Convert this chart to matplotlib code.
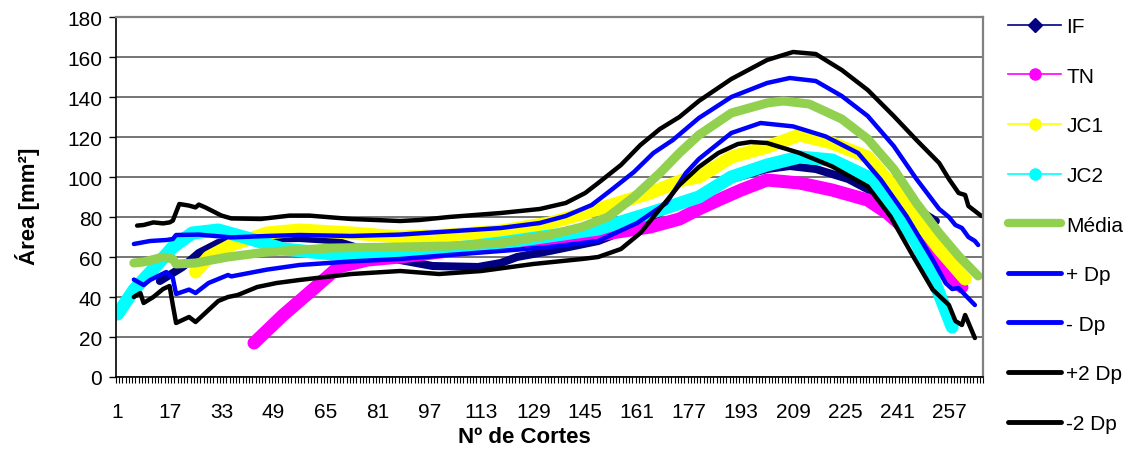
import matplotlib
matplotlib.use("Agg")
import matplotlib.pyplot as plt
from matplotlib.lines import Line2D
import numpy as np

plt.rcParams['font.family'] = ['Liberation Sans', 'DejaVu Sans']

# cross-section area per cut (Nº de Cortes) for each specimen, plus mean and deviation bands
n_cuts = 267

if_x = [14, 16, 21, 26, 32, 39, 57, 67, 78, 88, 98, 112, 119, 124, 134, 149, 160, 170,
        180, 190, 201, 208, 216, 226, 233, 244, 249, 253]
if_y = [48, 50, 55, 62, 67, 69, 69.5, 68.5, 63, 58.5, 55.5, 55, 57, 60, 63, 68, 75, 84,
        91, 99, 104, 105.5, 104, 99, 93, 88, 82, 78]

tn_x = [43, 52, 62, 69, 78, 88, 103, 119, 134, 149, 165, 174, 180, 186, 193, 201, 211,
        221, 232, 238, 245, 253, 261]
tn_y = [17, 31, 45, 55, 58.5, 60, 63, 66, 68, 71, 75, 79, 84, 88.5, 93.5, 98.5, 97,
        93.5, 88.5, 82, 72, 58, 45]

jc1_x = [25, 29, 36, 47, 57, 73, 88, 103, 119, 134, 145, 155, 165, 175, 180, 190, 201,
         211, 221, 232, 240, 247, 254, 262]
jc1_y = [52.5, 60, 66, 72, 73.5, 72, 70, 71, 73, 77, 82, 87, 92, 98.5, 100, 110, 115,
         121, 117, 110, 95, 79, 64, 49]

jc2_x = [1, 6, 12, 18, 24, 32, 42, 52, 67, 88, 103, 119, 134, 149, 165, 180, 190, 201,
         211, 221, 232, 240, 247, 252, 258]
jc2_y = [31.5, 43.5, 54, 65, 72, 73.5, 69, 64, 61.5, 62, 64, 67, 70.5, 74, 82, 90, 100,
         106, 110, 108.5, 100, 84, 67, 50, 25]

media_x = [6, 9, 15, 18, 19, 25, 35, 47, 67, 88, 103, 119, 134, 144, 152, 160, 168, 174,
           180, 190, 201, 206, 214, 224, 232, 240, 247, 254, 260, 266]
media_y = [57, 57.5, 60, 59, 56.5, 57, 60, 62.5, 64.5, 65, 65.5, 67, 71, 75, 80, 90, 102,
           112, 121, 132, 137, 138, 136.5, 129, 119, 104, 87, 72, 60.5, 50.5]

mais_dp_x = [6, 11, 16, 18, 19, 26, 36, 47, 57, 73, 88, 103, 119, 131, 139, 147, 153, 160,
             166, 172, 180, 190, 201, 208, 216, 224, 232, 240, 247, 254, 257, 259, 261,
             263, 265, 266]
mais_dp_y = [66.5, 68, 68.5, 69, 71, 71.2, 69.8, 70.5, 71, 70.5, 71.2, 72.8, 74.5, 77,
             80.5, 86, 93.5, 102.5, 112, 118.5, 129.5, 140, 147, 149.5, 148, 140.5, 130.5,
             115.5, 99, 84, 80, 76, 74.5, 70, 68, 66]

menos_dp_x = [6, 9, 11, 16, 18, 19, 23, 25, 29, 35, 36, 47, 57, 73, 88, 103, 119, 134,
              149, 161, 170, 176, 180, 190, 199, 209, 219, 229, 236, 244, 252, 256, 258,
              260, 262, 265]
menos_dp_y = [48.7, 46, 48.5, 52.5, 49.5, 41.5, 43.7, 42, 47, 51, 50.3, 53.7, 56, 57.8,
              59, 61, 63, 65, 68, 77, 87, 102, 109, 122, 127, 125.3, 120.3, 112, 98.7, 80.3,
              58.7, 47, 44, 44.5, 41, 36]

mais_2dp_x = [7, 9, 12, 15, 17, 18, 20, 23, 25, 26, 28, 33, 36, 45, 54, 60, 73, 88, 94,
              103, 119, 131, 139, 145, 149, 156, 162, 168, 174, 180, 190, 201, 209, 216,
              224, 232, 240, 247, 254, 257, 260, 262, 263, 265, 267]
mais_2dp_y = [75.7, 76, 77.3, 76.8, 77.3, 78.2, 86.5, 85.7, 84.8, 86.2, 84.8, 80.7, 79.3,
              79, 80.7, 80.7, 79, 78, 78.5, 80, 82, 84, 87, 92, 97, 106, 116, 124, 130, 138,
              149, 158.5, 162.5, 161.5, 153.5, 143.5, 130.5, 118.5, 107, 99, 92, 91, 85.5,
              83, 80.5]

menos_2dp_x = [6, 8, 9, 12, 15, 17, 18, 19, 21, 23, 25, 28, 32, 35, 38, 44, 50, 57, 73,
               88, 100, 113, 129, 144, 149, 156, 162, 168, 174, 180, 186, 192, 196, 201,
               211, 221, 232, 239, 246, 252, 257, 259, 261, 262, 265]
menos_2dp_y = [40, 42, 37, 40, 44, 45.5, 36, 27, 28.5, 30, 27.5, 32, 38, 40, 41, 45, 47,
               48.5, 51.5, 53, 51.5, 53, 56.5, 59, 60, 64, 72, 84, 96, 105, 112, 116.5,
               117.5, 117, 112, 105.3, 95.3, 80.3, 60.3, 43.7, 36, 28, 26, 31, 19.5]

series_names = ['IF', 'TN', 'JC1', 'JC2', 'Média', '+ Dp', '- Dp', '+2 Dp', '-2 Dp']
series_x = [if_x, tn_x, jc1_x, jc2_x, media_x, mais_dp_x, menos_dp_x, mais_2dp_x, menos_2dp_x]
series_y = [if_y, tn_y, jc1_y, jc2_y, media_y, mais_dp_y, menos_dp_y, mais_2dp_y, menos_2dp_y]
colors = ['#000080', '#FF00FF', '#FFFF00', '#00FFFF', '#92D050', '#0000FF', '#0000FF',
          '#000000', '#000000']
widths = [5.8, 9.4, 9.4, 9.4, 6.5, 3.2, 3.2, 3.2, 3.2]

fig = plt.figure(figsize=(11.34, 4.52), dpi=100)
ax = fig.add_axes([116 / 1134, 74 / 452, 867 / 1134, 360 / 452])

for xs, ys, c, lw in zip(series_x, series_y, colors, widths):
    ax.plot(xs, ys, color=c, lw=lw, solid_capstyle='round', solid_joinstyle='round')

ax.set_xlim(0.5, n_cuts + 0.5)
ax.set_ylim(0, 180)
ax.set_yticks(np.arange(0, 181, 20))
ax.set_xticks(np.arange(1, n_cuts, 16))
ax.set_xticks(np.arange(0.5, n_cuts + 1, 1), minor=True)
ax.tick_params(axis='x', which='major', length=0, pad=18, labelsize=15)
ax.tick_params(axis='x', which='minor', length=4, width=0.8, direction='out')
ax.tick_params(axis='y', which='major', length=5, width=1, pad=5, labelsize=15)

ax.grid(axis='y', color='#505050', lw=1.1)
ax.set_axisbelow(True)
for side in ['left', 'bottom']:
    ax.spines[side].set_color('black')
    ax.spines[side].set_linewidth(1.2)
for side in ['top', 'right']:
    ax.spines[side].set_color('#808080')
    ax.spines[side].set_linewidth(1.6)

fig.text(524 / 1134, 1 - 438 / 452, 'Nº de Cortes', fontsize=16, fontweight='bold',
         ha='center', va='center')
fig.text(27 / 1134, 1 - 206 / 452, 'Área [mm²]', fontsize=16, fontweight='bold',
         ha='center', va='center', rotation=90)

# legend handles styled like the series (markers for the specimens)
handles = [
    Line2D([], [], color='#000080', lw=1.2, marker='D', markersize=7),
    Line2D([], [], color='#FF00FF', lw=1.2, marker='o', markersize=8),
    Line2D([], [], color='#FFFF00', lw=1.2, marker='o', markersize=8),
    Line2D([], [], color='#00FFFF', lw=1.2, marker='o', markersize=8),
    Line2D([], [], color='#92D050', lw=6, solid_capstyle='round'),
    Line2D([], [], color='#0000FF', lw=3.5, solid_capstyle='round'),
    Line2D([], [], color='#0000FF', lw=3.5, solid_capstyle='round'),
    Line2D([], [], color='#000000', lw=3.5, solid_capstyle='round'),
    Line2D([], [], color='#000000', lw=3.5, solid_capstyle='round'),
]
fig.legend(handles, series_names, loc='upper left', bbox_to_anchor=(1008 / 1134, 1 - 18 / 452),
           frameon=False, fontsize=15, handlelength=2.55, handletextpad=0.25,
           labelspacing=1.47, borderaxespad=0, borderpad=0)

fig.savefig('out.png', dpi=100)
